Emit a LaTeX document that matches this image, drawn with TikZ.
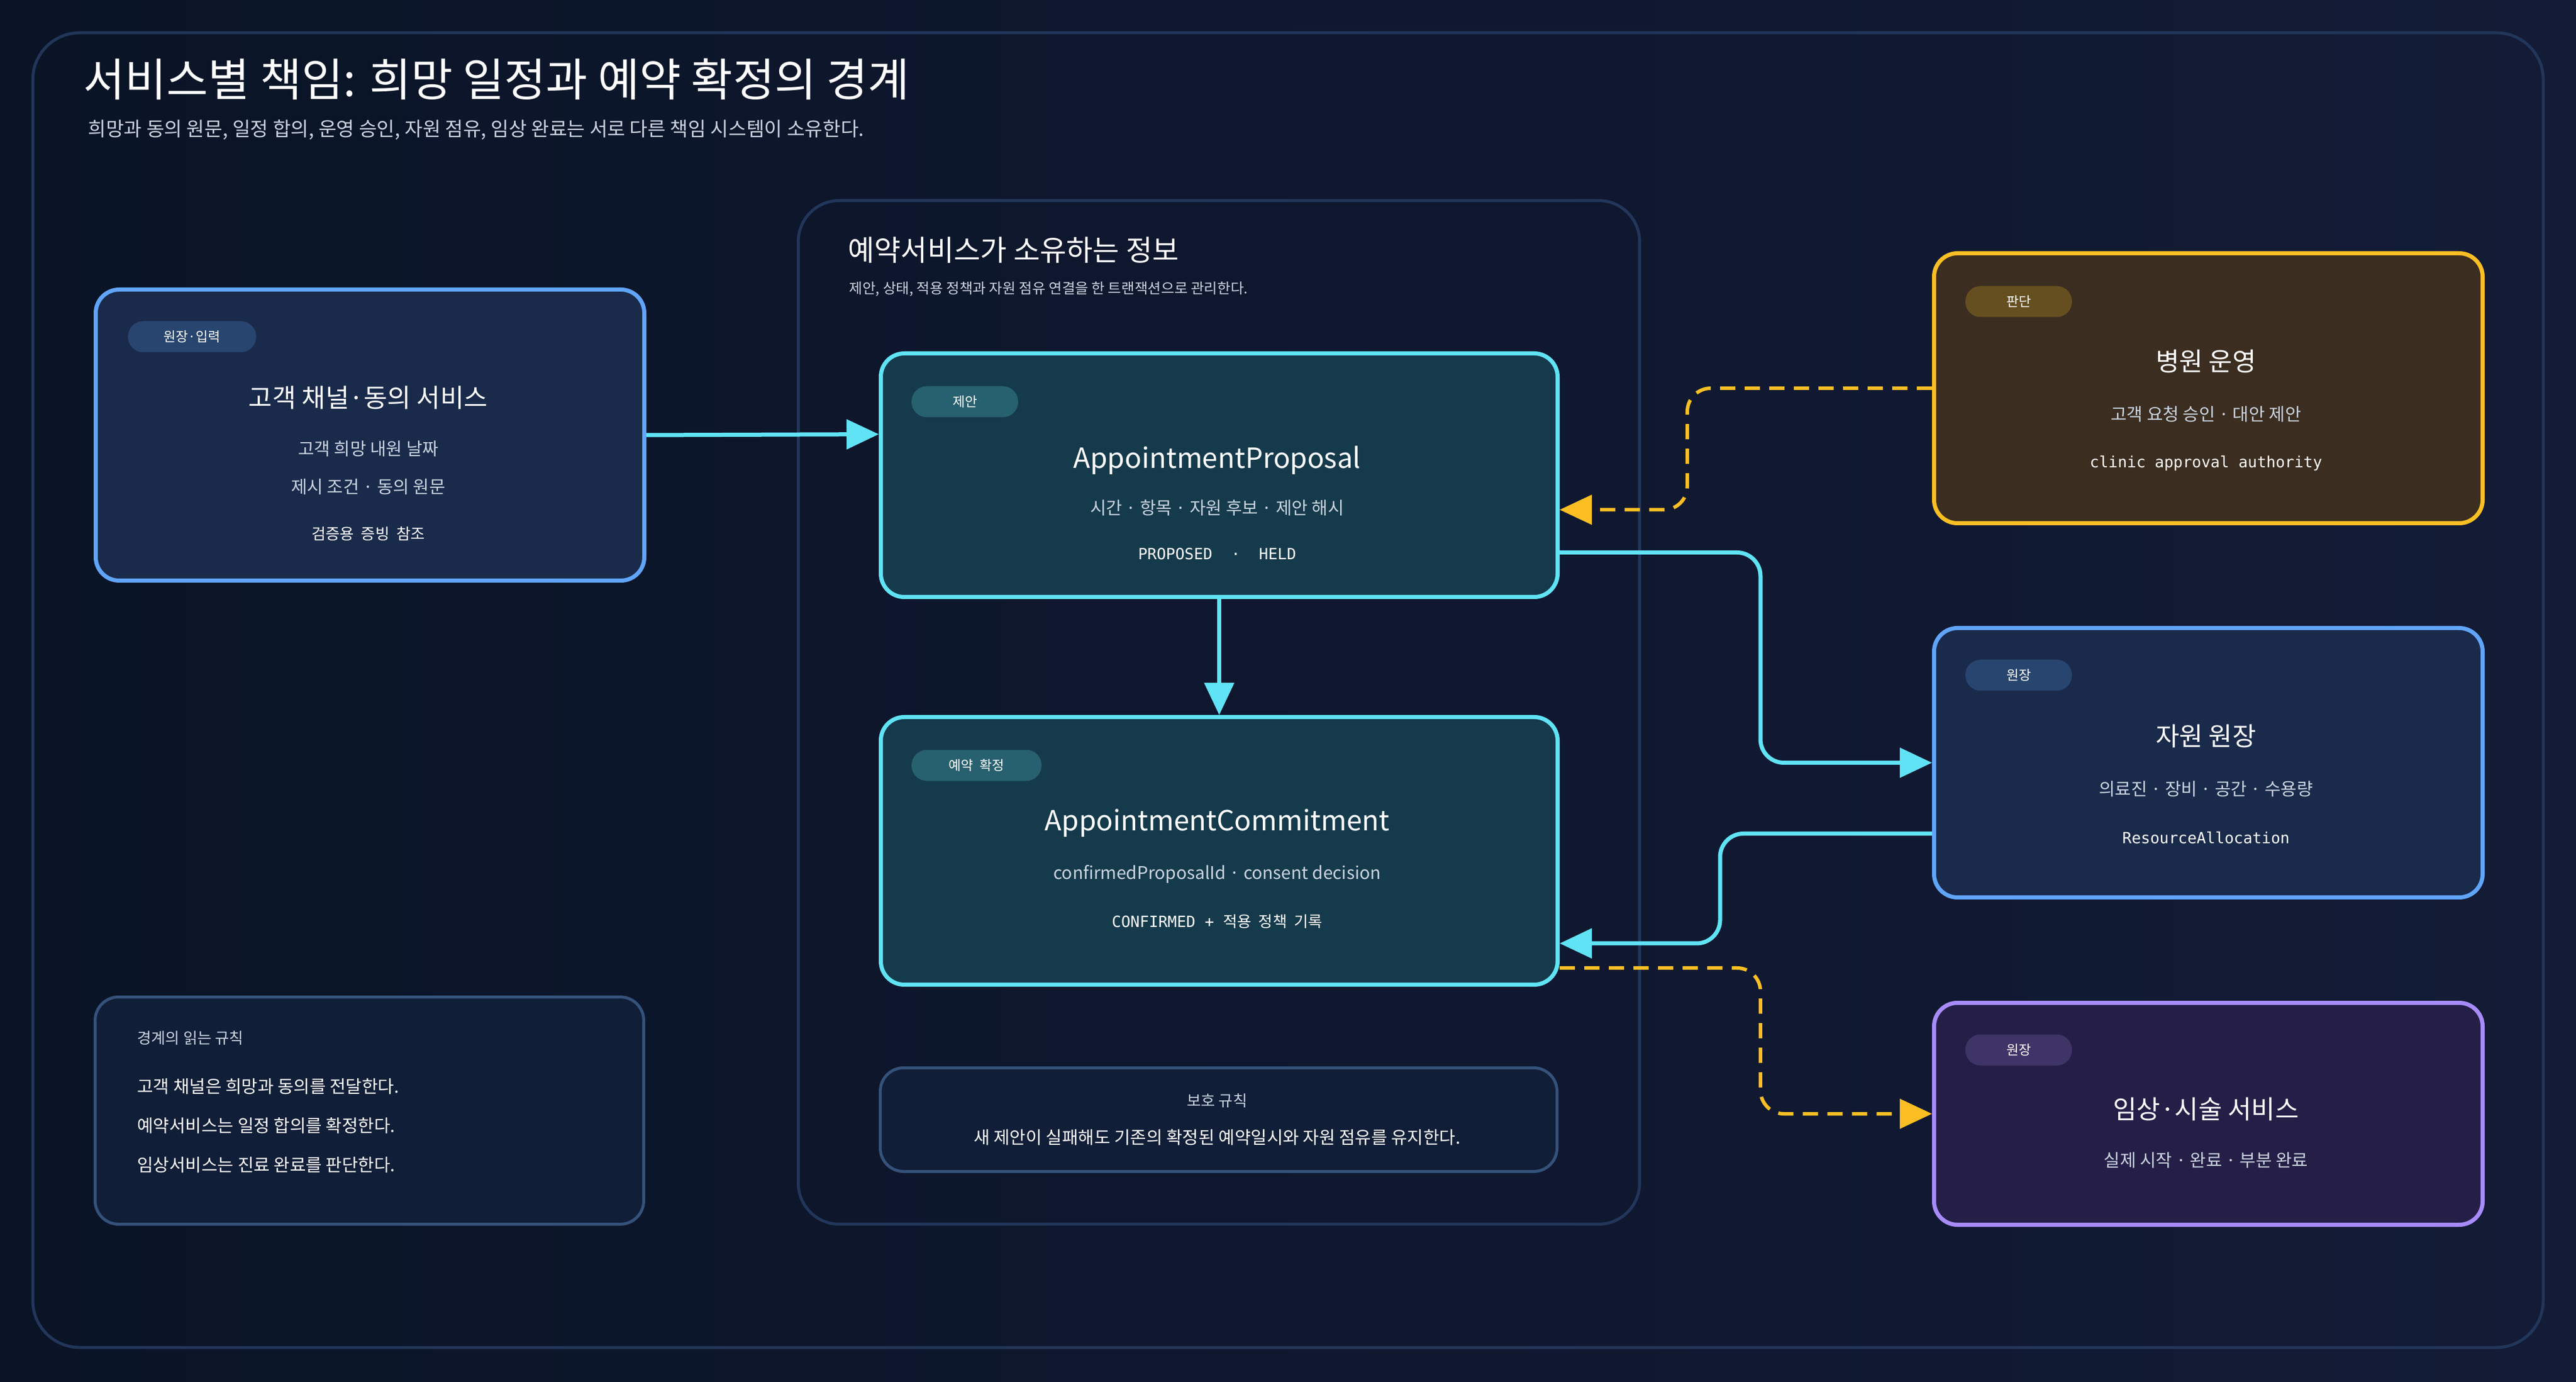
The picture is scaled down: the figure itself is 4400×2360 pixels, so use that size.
\documentclass[tikz,border=0pt]{standalone}
\usepackage{fontspec}
\setmainfont{Noto Sans CJK KR}
\newfontfamily\monofont{DejaVu Sans Mono}
\usetikzlibrary{positioning,arrows.meta,calc}
\definecolor{bgA}{HTML}{0A1426}
\definecolor{bgB}{HTML}{131B36}
\definecolor{frame}{HTML}{22365A}
\definecolor{cyanline}{HTML}{5FE3F5}
\definecolor{cyanfill}{HTML}{153A4B}
\definecolor{cyanpill}{HTML}{27606E}
\definecolor{blueline}{HTML}{60A5FA}
\definecolor{bluefill}{HTML}{1A2A4B}
\definecolor{bluepill}{HTML}{27456E}
\definecolor{goldline}{HTML}{FBBF24}
\definecolor{goldfill}{HTML}{3B2D20}
\definecolor{goldpill}{HTML}{654F20}
\definecolor{purpline}{HTML}{A78BFA}
\definecolor{purpfill}{HTML}{251F48}
\definecolor{purppill}{HTML}{3F3468}
\definecolor{notefill}{HTML}{111E38}
\definecolor{noteline}{HTML}{34527A}
\definecolor{soft}{HTML}{CBD5E1}
\tikzset{
    box/.style={
        draw,
        rounded corners=4mm,
        line width=0.7mm,
        anchor=north west,
        inner sep=0pt
    },
    pill/.style={
        rounded corners=2.6mm,
        minimum height=5.3mm,
        inner sep=0pt,
        text=white,
        font=\fontsize{6.5}{8}\selectfont
    },
    title/.style={text=white, font=\fontsize{12.5}{15}\selectfont},
    sub/.style={text=soft, font=\fontsize{8.5}{10}\selectfont},
    mono/.style={text=white, font=\fontsize{7.5}{9}\monofont},
    flow/.style={cyanline, line width=0.7mm, rounded corners=4mm,
        -{Triangle[length=5.5mm,width=5mm]}},
    ask/.style={goldline, line width=0.6mm, rounded corners=4mm, dash pattern=on 2.6mm off 1.6mm,
        -{Triangle[length=5.5mm,width=5mm]}}
}
\begin{document}
\begin{tikzpicture}[x=0.1mm,y=-0.1mm]
  \shade[left color=bgA, right color=bgB] (0,0) rectangle (4400,2360);
  \useasboundingbox (0,0) rectangle (4400,2360);
  \draw[frame, line width=0.5mm, rounded corners=8mm] (56,56) rectangle (4344,2301);

  % heading
  \node[anchor=west, text=white, font=\fontsize{22}{26}\selectfont] (head) at (130,135)
    {서비스별 책임: 희망 일정과 예약 확정의 경계};
  \node[anchor=west, text=soft, font=\fontsize{9.5}{11}\selectfont] (headsub) at (138,222)
    {희망과 동의 원문, 일정 합의, 운영 승인, 자원 점유, 임상 완료는 서로 다른 책임 시스템이 소유한다.};

  % booking service container
  \node[box, draw=frame, line width=0.5mm, rounded corners=7mm, minimum width=143.7mm, minimum height=174.8mm] (svc) at (1361,340) {};
  \node[anchor=west, text=white, font=\fontsize{14}{17}\selectfont] (svctitle) at (1436,427) {예약서비스가 소유하는 정보};
  \node[anchor=west, text=soft, font=\fontsize{7}{9}\selectfont] (svcsub) at (1438,494)
    {제안, 상태, 적용 정책과 자원 점유 연결을 한 트랜잭션으로 관리한다.};

  % left: customer channel
  \node[box, draw=blueline, fill=bluefill, minimum width=93.7mm, minimum height=49.7mm] (chan) at (160,491) {};
  \node[pill, fill=bluepill, minimum width=21.9mm] (chanpill) at (328,575) {원장·입력};
  \node[title] (chant) at (629,679) {고객 채널·동의 서비스};
  \node[sub] (chans1) at (629,766) {고객 희망 내원 날짜};
  \node[sub] (chans2) at (629,831) {제시 조건 · 동의 원문};
  \node[text=white, font=\fontsize{7.5}{9}\selectfont] (chans3) at (629,912) {검증용\ \ 증빙\ \ 참조};

  % rules note
  \node[box, draw=noteline, fill=notefill, line width=0.5mm, minimum width=93.7mm, minimum height=38.8mm] (rules) at (160,1700) {};
  \node[anchor=west, text=soft, font=\fontsize{7.5}{9}\selectfont] (rules0) at (222,1773) {경계의 읽는 규칙};
  \node[anchor=west, text=white, font=\fontsize{8.5}{10}\selectfont] (rules1) at (222,1855) {고객 채널은 희망과 동의를 전달한다.};
  \node[anchor=west, text=white, font=\fontsize{8.5}{10}\selectfont] (rules2) at (222,1922) {예약서비스는 일정 합의를 확정한다.};
  \node[anchor=west, text=white, font=\fontsize{8.5}{10}\selectfont] (rules3) at (222,1989) {임상서비스는 진료 완료를 판단한다.};

  % proposal
  \node[box, draw=cyanline, fill=cyanfill, minimum width=115.6mm, minimum height=41.6mm] (prop) at (1501,600) {};
  \node[pill, fill=cyanpill, minimum width=18.2mm] (proppill) at (1648,686) {제안};
  \node[title, font=\fontsize{13.5}{16}\selectfont] (propt) at (2079,786) {AppointmentProposal};
  \node[sub] (props) at (2079,867) {시간 · 항목 · 자원 후보 · 제안 해시};
  \node[mono] (propm) at (2079,946) {PROPOSED\ \ ·\ \ HELD};

  % commitment
  \node[box, draw=cyanline, fill=cyanfill, minimum width=115.6mm, minimum height=45.7mm] (comm) at (1501,1221) {};
  \node[pill, fill=cyanpill, minimum width=22.2mm] (commpill) at (1668,1307) {예약\ \ 확정};
  \node[title, font=\fontsize{13.5}{16}\selectfont] (commt) at (2079,1406) {AppointmentCommitment};
  \node[sub] (comms) at (2079,1493) {confirmedProposalId · consent decision};
  \node[mono] (commm) at (2079,1574) {CONFIRMED + {\rmfamily 적용\ \ 정책\ \ 기록}};

  % protection note
  \node[box, draw=noteline, fill=notefill, line width=0.5mm, minimum width=115.6mm, minimum height=17.7mm] (guard) at (1501,1821) {};
  \node[text=soft, font=\fontsize{7.5}{9}\selectfont] (guard0) at (2079,1880) {보호 규칙};
  \node[text=white, font=\fontsize{8.5}{10}\selectfont] (guard1) at (2079,1942) {새 제안이 실패해도 기존의 확정된 예약일시와 자원 점유를 유지한다.};

  % hospital operations
  \node[box, draw=goldline, fill=goldfill, minimum width=93.7mm, minimum height=46.1mm] (hosp) at (3300,429) {};
  \node[pill, fill=goldpill, minimum width=18.2mm] (hosppill) at (3448,515) {판단};
  \node[title] (hospt) at (3768,617) {병원 운영};
  \node[sub] (hosps) at (3768,707) {고객 요청 승인 · 대안 제안};
  \node[mono] (hospm) at (3768,791) {clinic approval authority};

  % resource ledger
  \node[box, draw=blueline, fill=bluefill, minimum width=93.7mm, minimum height=46mm] (res) at (3300,1069) {};
  \node[pill, fill=bluepill, minimum width=18.2mm] (respill) at (3448,1153) {원장};
  \node[title] (rest) at (3768,1257) {자원 원장};
  \node[sub] (ress) at (3768,1347) {의료진 · 장비 · 공간 · 수용량};
  \node[mono] (resm) at (3768,1431) {ResourceAllocation};

  % clinical service
  \node[box, draw=purpline, fill=purpfill, minimum width=93.7mm, minimum height=37.9mm] (clin) at (3300,1709) {};
  \node[pill, fill=purppill, minimum width=18.2mm] (clinpill) at (3448,1793) {원장};
  \node[title] (clint) at (3768,1894) {임상·시술 서비스};
  \node[sub] (clins) at (3768,1981) {실제 시작 · 완료 · 부분 완료};

  % connectors
  \draw[flow] (chan.east) -- ([yshift=7mm]prop.west);
  \draw[flow] (prop.south) -- (comm.north);
  \draw[ask] (hosp.west) -- ++(-41.8mm,0) |- ([yshift=-5.9mm]prop.east);
  \draw[flow] ([yshift=-13.2mm]prop.east) -- ++(34.3mm,0) |- (res.west);
  \draw[flow] ([yshift=-12.1mm]res.west) -- ++(-36.2mm,0) |- ([yshift=-15.8mm]comm.east);
  \draw[ask] ([yshift=-20mm]comm.east) -- ++(34.3mm,0) |- (clin.west);
\end{tikzpicture}
\end{document}
